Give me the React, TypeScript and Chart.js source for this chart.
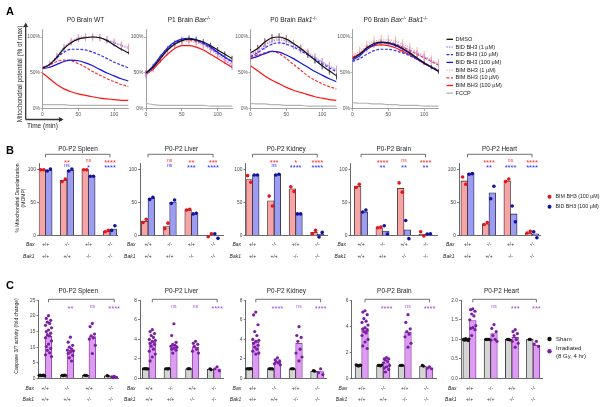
import React, { useEffect, useRef } from "react";
import { Chart, registerables } from "chart.js";

Chart.register(...registerables);

const FAMILY = "'Liberation Sans', Arial, Helvetica, sans-serif";
Chart.defaults.font.family = FAMILY;
const PAGE_W = 612;
const PAGE_H = 407;

/* ================= Panel A data ================= */
const TIME_MIN = [0, 10, 20, 30, 40, 50, 60, 70, 80, 90, 100, 110, 120];
const A_SERIES = ["DMSO", "BID BH3 (1 µM)", "BID BH3 (10 µM)", "BID BH3 (100 µM)", "BIM BH3 (1 µM)", "BIM BH3 (10 µM)", "BIM BH3 (100 µM)", "FCCP"];
const A_X_TICKS = [0, 50, 100];
const A_Y_TICKS = [0, 50, 100];

const WT_DMSO = [57, 62, 72, 84, 92, 97, 99, 100, 99, 95, 89, 83, 78];
const WT_BID1 = [57, 62, 73, 85, 93, 98, 100, 100, 99, 96, 92, 88, 84];
const WT_BID10 = [57, 62, 71, 79, 83, 83, 82, 79, 75, 70, 65, 61, 57];
const WT_BID100 = [56, 58, 62, 66, 68, 67, 64, 60, 55, 50, 46, 42, 39];
const WT_BIM1 = [57, 62, 73, 85, 94, 99, 100, 100, 99, 96, 93, 89, 86];
const WT_BIM10 = [57, 61, 66, 68, 67, 63, 58, 52, 47, 42, 38, 34, 31];
const WT_BIM100 = [50, 42, 34, 28, 24, 21, 19, 17, 15, 14, 13, 12, 12];
const WT_FCCP = [6, 6, 6, 6, 5, 5, 5, 5, 5, 5, 5, 5, 5];

const BAX_DMSO = [50, 58, 70, 82, 90, 95, 97, 96, 93, 88, 82, 76, 70];
const BAX_BID1 = [48, 57, 70, 82, 90, 95, 97, 95, 90, 84, 76, 68, 60];
const BAX_BID10 = [50, 59, 72, 84, 92, 96, 97, 95, 91, 85, 78, 72, 65];
const BAX_BID100 = [50, 60, 73, 85, 93, 97, 98, 96, 92, 86, 79, 72, 66];
const BAX_BIM1 = [49, 58, 70, 81, 89, 93, 94, 92, 88, 82, 75, 68, 62];
const BAX_BIM10 = [49, 58, 70, 82, 90, 95, 96, 94, 90, 84, 78, 72, 66];
const BAX_BIM100 = [48, 55, 66, 76, 84, 88, 88, 86, 82, 76, 70, 64, 58];
const BAX_FCCP = [8, 6, 5, 5, 5, 5, 5, 5, 5, 4, 4, 4, 4];

const BAK_DMSO = [78, 84, 93, 99, 100, 97, 91, 84, 76, 68, 60, 53, 46];
const BAK_BID1 = [75, 80, 88, 94, 96, 94, 89, 83, 77, 71, 65, 59, 54];
const BAK_BID10 = [73, 78, 85, 90, 92, 90, 86, 81, 75, 69, 63, 57, 52];
const BAK_BID100 = [70, 73, 77, 80, 79, 75, 70, 64, 58, 52, 47, 42, 38];
const BAK_BIM1 = [76, 82, 90, 96, 98, 96, 91, 85, 79, 72, 66, 60, 55];
const BAK_BIM10 = [72, 75, 78, 80, 77, 70, 62, 54, 46, 40, 35, 31, 28];
const BAK_BIM100 = [60, 53, 46, 40, 35, 30, 26, 23, 20, 17, 15, 13, 12];
const BAK_FCCP = [8, 7, 7, 6, 6, 5, 5, 5, 4, 4, 4, 4, 4];

const DKO_DMSO = [70, 76, 85, 91, 93, 92, 89, 84, 78, 71, 64, 58, 52];
const DKO_BID1 = [70, 75, 84, 90, 93, 93, 91, 87, 82, 77, 72, 67, 62];
const DKO_BID10 = [66, 70, 76, 81, 83, 83, 81, 78, 74, 69, 64, 59, 54];
const DKO_BID100 = [68, 74, 83, 89, 92, 91, 88, 83, 77, 70, 64, 58, 53];
const DKO_BIM1 = [75, 80, 88, 94, 96, 96, 94, 90, 85, 79, 74, 68, 63];
const DKO_BIM10 = [72, 77, 85, 90, 92, 92, 90, 86, 81, 76, 71, 66, 61];
const DKO_BIM100 = [72, 76, 83, 88, 89, 88, 85, 80, 75, 69, 63, 58, 53];
const DKO_FCCP = [9, 8, 8, 7, 7, 6, 6, 5, 5, 5, 4, 4, 4];

const A_CHART_DATA = [
  [WT_DMSO, WT_BID1, WT_BID10, WT_BID100, WT_BIM1, WT_BIM10, WT_BIM100, WT_FCCP],
  [BAX_DMSO, BAX_BID1, BAX_BID10, BAX_BID100, BAX_BIM1, BAX_BIM10, BAX_BIM100, BAX_FCCP],
  [BAK_DMSO, BAK_BID1, BAK_BID10, BAK_BID100, BAK_BIM1, BAK_BIM10, BAK_BIM100, BAK_FCCP],
  [DKO_DMSO, DKO_BID1, DKO_BID10, DKO_BID100, DKO_BIM1, DKO_BIM10, DKO_BIM100, DKO_FCCP],
];
// error (SEM) sizes for DMSO, BID 1 µM, BIM 1 µM
const A_ERR = [[2, 5, 5], [4, 6, 5], [5, 6, 5], [3, 5, 7]];

/* ================= Panel B / C shared ================= */
const GROUP_IDX = [0, 1, 2, 3];
const BAX_ROW = ["+/+", "-/-", "+/+", "-/-"];
const BAK1_ROW = ["+/+", "+/+", "-/-", "-/-"];
const TISSUES = ["P0-P2 Spleen", "P0-P2 Liver", "P0-P2 Kidney", "P0-P2 Brain", "P0-P2 Heart"];

/* ================= Panel B data ================= */
const B_Y_TICKS = [0, 50, 100];
const SPLEEN_BIM = [100, 84, 100, 7];
const SPLEEN_BID = [99, 99, 90, 10];
const SPLEEN_BIM_PTS = [[100, 100], [82, 86], [100, 100], [6, 8]];
const SPLEEN_BID_PTS = [[98, 101], [98, 101], [90, 90], [8, 15]];
const LIVER_BIM = [22, 14, 39, 0];
const LIVER_BID = [57, 51, 32, 0];
const LIVER_BIM_PTS = [[20, 25], [11, 19], [39, 40], [-1.5, 3]];
const LIVER_BID_PTS = [[55, 58], [49, 54], [33, 34], [3, -4]];
const KIDNEY_BIM = [85, 53, 71, 5];
const KIDNEY_BID = [92, 93, 33, 2];
const KIDNEY_BIM_PTS = [[91, 81], [60, 45], [74, 67], [3, 8]];
const KIDNEY_BID_PTS = [[92, 92], [92, 93], [33, 33], [-2, 5]];
const BRAIN_BIM = [75, 12, 72, 2];
const BRAIN_BID = [36, 7, 9, 2];
const BRAIN_BIM_PTS = [[73, 78], [12, 13], [80, 66], [6, -0.5]];
const BRAIN_BID_PTS = [[36, 39], [15, 2.5], [23, -4.5], [2.5, 3]];
const HEART_BIM = [83, 18, 83, 4];
const HEART_BID = [95, 65, 33, 3];
const HEART_BIM_PTS = [[89, 78], [17, 20], [82, 86], [4, 6.5]];
const HEART_BID_PTS = [[93, 94], [56, 75], [45, 21], [6, -3]];
const B_SIG_BIM = [["**", "ns", "****"], ["ns", "**", "***"], ["***", "*", "****"], ["****", "ns", "****"], ["****", "ns", "****"]];
const B_SIG_BID = [["ns", "*", "****"], ["ns", "***", "****"], ["ns", "****", "****"], ["**", "**", "**"], ["**", "****", "****"]];
const B_BIM_BARS = [SPLEEN_BIM, LIVER_BIM, KIDNEY_BIM, BRAIN_BIM, HEART_BIM];
const B_BID_BARS = [SPLEEN_BID, LIVER_BID, KIDNEY_BID, BRAIN_BID, HEART_BID];
const B_BIM_POINTS = [SPLEEN_BIM_PTS, LIVER_BIM_PTS, KIDNEY_BIM_PTS, BRAIN_BIM_PTS, HEART_BIM_PTS];
const B_BID_POINTS = [SPLEEN_BID_PTS, LIVER_BID_PTS, KIDNEY_BID_PTS, BRAIN_BID_PTS, HEART_BID_PTS];

/* ================= Panel C data ================= */
const C_Y_TICKS = [[0, 5, 10, 15, 20, 25], [0, 2, 4, 6, 8], [0, 2, 4, 6, 8], [0, 2, 4, 6], [0, 0.5, 1, 1.5, 2]];
const SPLEEN_SHAM = [1.0, 1.0, 1.0, 0.85];
const SPLEEN_IRR = [13.6, 9.0, 13.4, 0.5];
const SPLEEN_SHAM_PTS = [[1.0, 1.05, 0.95, 1.0, 1.1, 0.9], [1.0, 0.95, 1.05, 1.0], [1.0, 1.0, 0.95], [0.95, 0.8]];
const SPLEEN_IRR_PTS = [[20.1, 19.2, 18.6, 18.0, 17.6, 17.0, 16.2, 15.5, 15.0, 14.5, 14.0, 13.6, 13.0, 12.0, 11.0, 10.2, 9.6, 9.0, 8.2, 7.6, 7.0], [13.2, 11.6, 10.6, 10.0, 9.5, 9.1, 8.8, 8.5, 8.0, 7.4, 6.6, 5.6], [17.6, 16.6, 14.2, 13.6, 13.0, 12.6, 10.6, 8.0], [0.7, 0.5, 0.4, 0.3]];
const LIVER_SHAM = [1.0, 1.0, 1.0, 0.95];
const LIVER_IRR = [3.7, 3.4, 3.2, 1.0];
const LIVER_SHAM_PTS = [[1.0, 1.0, 1.02, 0.98, 1.0], [1.0, 1.0, 0.98, 1.02], [1.0, 1.0, 1.0], [1.0, 0.9]];
const LIVER_IRR_PTS = [[5.0, 4.8, 4.6, 4.4, 4.2, 4.0, 3.9, 3.8, 3.6, 3.5, 3.3, 3.0, 2.8, 2.5, 2.2, 1.8], [5.6, 4.4, 3.7, 3.5, 3.4, 3.3, 3.2, 3.1, 3.0, 2.9, 2.6], [3.8, 3.6, 3.5, 3.3, 3.0, 2.8, 2.6], [1.2, 1.0, 0.8]];
const KIDNEY_SHAM = [1.0, 1.0, 1.0, 0.75];
const KIDNEY_IRR = [3.7, 1.7, 3.6, 0.7];
const KIDNEY_SHAM_PTS = [[1.0, 1.0, 0.98, 1.02, 1.0], [1.0, 1.0, 1.0, 0.98], [1.0, 1.0, 1.0], [0.8, 0.75]];
const KIDNEY_IRR_PTS = [[6.8, 6.5, 5.5, 4.8, 4.4, 4.0, 3.9, 3.8, 3.6, 3.4, 3.2, 3.0, 2.8, 2.6, 2.5], [2.1, 1.9, 1.8, 1.7, 1.6, 1.5, 1.4], [5.3, 4.4, 4.2, 3.8, 3.0, 2.6, 2.2, 1.8], [1.0, 0.6, 0.4]];
const BRAIN_SHAM = [1.0, 1.0, 1.0, 0.95];
const BRAIN_IRR = [3.85, 1.2, 3.55, 0.8];
const BRAIN_SHAM_PTS = [[1.05, 1.0, 0.95, 1.0, 1.02], [1.0, 1.0, 0.97, 1.03], [1.0, 1.0, 1.0], [1.0, 0.95]];
const BRAIN_IRR_PTS = [[5.2, 5.1, 4.9, 4.6, 4.4, 4.3, 4.1, 3.9, 3.8, 3.7, 3.6, 3.5, 3.3, 3.0, 2.8, 2.5, 2.3], [1.6, 1.5, 1.5, 1.4, 1.3, 1.2, 1.0, 0.9, 0.8, 0.7, 0.5], [4.9, 4.3, 3.8, 3.6, 3.4, 3.2, 2.7, 2.4], [0.9, 0.8, 0.75]];
const HEART_SHAM = [1.0, 1.0, 1.0, 1.0];
const HEART_IRR = [1.48, 1.15, 1.05, 0.85];
const HEART_SHAM_PTS = [[1.0, 0.98, 1.02, 1.0, 0.97, 1.01], [1.0, 1.0, 1.0, 1.0], [1.0, 1.0, 0.99], [1.0, 1.0]];
const HEART_IRR_PTS = [[1.78, 1.76, 1.72, 1.65, 1.6, 1.5, 1.35, 1.3, 1.28, 1.25, 1.1], [1.38, 1.28, 1.2, 1.1, 1.0, 0.98, 0.95], [1.25, 1.2, 1.15, 1.1, 1.0, 0.95, 0.9, 0.8], [0.95, 0.88, 0.82]];
const C_SIG = [["**", "ns", "****"], ["ns", "ns", "****"], ["****", "ns", "****"], ["****", "ns", "****"], ["ns", "***", "***"]];
const C_SHAM_BARS = [SPLEEN_SHAM, LIVER_SHAM, KIDNEY_SHAM, BRAIN_SHAM, HEART_SHAM];
const C_IRR_BARS = [SPLEEN_IRR, LIVER_IRR, KIDNEY_IRR, BRAIN_IRR, HEART_IRR];
const C_SHAM_POINTS = [SPLEEN_SHAM_PTS, LIVER_SHAM_PTS, KIDNEY_SHAM_PTS, BRAIN_SHAM_PTS, HEART_SHAM_PTS];
const C_IRR_POINTS = [SPLEEN_IRR_PTS, LIVER_IRR_PTS, KIDNEY_IRR_PTS, BRAIN_IRR_PTS, HEART_IRR_PTS];

/* ================= layout & style ================= */
const A_BOXES = [[42.5, 128.5], [146, 232], [250.5, 336.5], [352.5, 438.5]];
const A_TOP = 29.8;
const A_BOTTOM = 109;
const A_COLORS = ["#111111", "#8a80ff", "#2a2aff", "#1414e8", "#ff9c9c", "#ff2e2e", "#ff1414", "#b4b4b4"];
const A_DASHES = [[], [1.2, 1.3], [2.8, 1.6], [], [1.2, 1.3], [2.8, 1.6], [], []];
const A_ERR_IDX = [0, 1, 4];
const A_TITLES: any[] = [
  [{ t: "P0 Brain WT" }],
  [{ t: "P1 Brain " }, { t: "Bax", it: true }, { t: "-/-", sup: true }],
  [{ t: "P0 Brain " }, { t: "Bak1", it: true }, { t: "-/-", sup: true }],
  [{ t: "P0 Brain " }, { t: "Bax", it: true }, { t: "-/-", sup: true }, { t: " " }, { t: "Bak1", it: true }, { t: "-/-", sup: true }],
];

const B_BOXES = [
  { l: 39, r: 117, c0: 45.5, s: 21.5 },
  { l: 140, r: 223, c0: 148, s: 21.7 },
  { l: 245.5, r: 327, c0: 252.5, s: 21.6 },
  { l: 350.5, r: 437, c0: 361, s: 21.5 },
  { l: 459, r: 540, c0: 467.5, s: 21.5 },
];
const B_TOP = 163.1;
const B_BOTTOM = 235.7;

const C_BOXES = [
  { l: 38.5, r: 118, c0: 45.2, s: 21.9 },
  { l: 140, r: 223, c0: 149, s: 21.6 },
  { l: 245.7, r: 327, c0: 252.5, s: 21.6 },
  { l: 351.7, r: 437, c0: 361.7, s: 21.5 },
  { l: 461, r: 542, c0: 469.5, s: 21.2 },
];
const C_TOP = 300.3;
const C_BOTTOM = 378.5;
const BAR_PX = 6.6;
const BEE = [0, -2.2, 2.2, -1.1, 1.1, -3, 3];
const Y_BOX_W = 20; // width given to the y-axis box (labels are clipped to it)

/* ================= drawing helpers ================= */
function txt(ctx: any, s: string, x: number, y: number, size: number, color: string, align: any = "center", style = "") {
  ctx.save();
  ctx.font = `${style ? style + " " : ""}${size}px ${FAMILY}`;
  ctx.fillStyle = color;
  ctx.textAlign = align;
  ctx.textBaseline = "middle";
  ctx.fillText(s, x, y);
  ctx.restore();
}

function rich(ctx: any, segs: any[], cx: number, cy: number, size: number, color: string) {
  ctx.save();
  ctx.fillStyle = color;
  ctx.textBaseline = "alphabetic";
  ctx.textAlign = "left";
  const f = (sg: any) => `${sg.it ? "italic " : ""}${sg.sup ? size * 0.68 : size}px ${FAMILY}`;
  let w = 0;
  segs.forEach((sg) => { ctx.font = f(sg); w += ctx.measureText(sg.t).width; });
  let x = cx - w / 2;
  const base = cy + size * 0.36;
  segs.forEach((sg) => {
    ctx.font = f(sg);
    ctx.fillText(sg.t, x, sg.sup ? base - size * 0.38 : base);
    x += ctx.measureText(sg.t).width;
  });
  ctx.restore();
}

function rotated(ctx: any, s: string, x: number, y: number, size: number, color: string) {
  ctx.save();
  ctx.translate(x, y);
  ctx.rotate(-Math.PI / 2);
  ctx.font = `${size}px ${FAMILY}`;
  ctx.fillStyle = color;
  ctx.textAlign = "center";
  ctx.textBaseline = "middle";
  ctx.fillText(s, 0, 0);
  ctx.restore();
}

function drawSig(ctx: any, s: string, x: number, y: number, color: string) {
  ctx.save();
  ctx.fillStyle = color;
  ctx.textAlign = "center";
  ctx.textBaseline = "alphabetic";
  if (s.indexOf("*") >= 0) {
    const sz = 7.5;
    ctx.font = `${sz}px ${FAMILY}`;
    ctx.fillText(s, x, y + sz * 0.58);
  } else {
    const sz = 5;
    ctx.font = `${sz}px ${FAMILY}`;
    ctx.fillText(s, x, y + sz * 0.27);
  }
  ctx.restore();
}

function arrow(ctx: any, x1: number, y1: number, x2: number, y2: number, color: string) {
  ctx.save();
  ctx.strokeStyle = color;
  ctx.fillStyle = color;
  ctx.lineWidth = 1.3;
  ctx.beginPath();
  ctx.moveTo(x1, y1);
  ctx.lineTo(x2, y2);
  ctx.stroke();
  const a = Math.atan2(y2 - y1, x2 - x1);
  const hl = 4.5, hw = 2.4;
  const ex = x2 + Math.cos(a) * 1.5, ey = y2 + Math.sin(a) * 1.5;
  ctx.beginPath();
  ctx.moveTo(ex, ey);
  ctx.lineTo(ex - hl * Math.cos(a) + hw * Math.sin(a), ey - hl * Math.sin(a) - hw * Math.cos(a));
  ctx.lineTo(ex - hl * Math.cos(a) - hw * Math.sin(a), ey - hl * Math.sin(a) + hw * Math.cos(a));
  ctx.closePath();
  ctx.fill();
  ctx.restore();
}

function dot(ctx: any, x: number, y: number, r: number, color: string) {
  ctx.save();
  ctx.fillStyle = color;
  ctx.beginPath();
  ctx.arc(x, y, r, 0, Math.PI * 2);
  ctx.fill();
  ctx.restore();
}

function common(l: number, r: number, top: number, bottom: number, xBoxH: number) {
  return {
    responsive: false,
    maintainAspectRatio: false,
    animation: false,
    devicePixelRatio: 1,
    events: [],
    layout: { padding: { left: l - Y_BOX_W, right: PAGE_W - r, top, bottom: PAGE_H - bottom - xBoxH } },
    plugins: { legend: { display: false }, tooltip: { enabled: false }, title: { display: false } },
  };
}

const errorBars = {
  id: "errorBars",
  beforeDatasetsDraw(chart: any) {
    const { ctx, scales } = chart;
    const xs = scales.x, ys = scales.y;
    chart.data.datasets.forEach((ds: any) => {
      if (!ds.errAmt) return;
      ctx.save();
      ctx.strokeStyle = ds.borderColor;
      ctx.lineWidth = 0.8;
      ds.data.forEach((p: any) => {
        const px = xs.getPixelForValue(p.x);
        ctx.beginPath();
        ctx.moveTo(px, ys.getPixelForValue(p.y - ds.errAmt));
        ctx.lineTo(px, ys.getPixelForValue(p.y + ds.errAmt));
        ctx.stroke();
      });
      ctx.restore();
    });
  },
};

/* ================= Panel A chart ================= */
const A_X_BOX_H = 12;
function lineConfig(i: number): any {
  const [l, r] = A_BOXES[i];
  const datasets = A_CHART_DATA[i].map((vals, k) => ({
    type: "line",
    label: A_SERIES[k],
    data: vals.map((v, j) => ({ x: TIME_MIN[j], y: v })),
    borderColor: A_COLORS[k],
    borderWidth: 1.2,
    borderDash: A_DASHES[k],
    pointRadius: 0,
    cubicInterpolationMode: "monotone",
    fill: false,
    errAmt: A_ERR_IDX.indexOf(k) >= 0 ? A_ERR[i][A_ERR_IDX.indexOf(k)] : 0,
  }));
  const axisColor = "#8a8a8a";
  const decor = {
    id: "aDecor",
    afterDraw(chart: any) {
      const { ctx, chartArea } = chart;
      rich(ctx, A_TITLES[i], (chartArea.left + chartArea.right) / 2, 20, 6.6, "#222");
      if (i === 0) {
        txt(ctx, "A", 6, 12, 11, "#000", "left", "bold");
        rotated(ctx, "Mitochondrial potential (% of max)", 20, 74, 6.4, "#222");
        arrow(ctx, 25.7, 119.5, 25.7, 24, "#333");
        arrow(ctx, 25.7, 119.5, 62, 119.5, "#333");
        txt(ctx, "Time (min)", 27, 126, 6.5, "#222", "left");
      }
      if (i === 3) {
        chart.data.datasets.forEach((ds: any, k: number) => {
          const y = 39.3 + k * 7.7;
          ctx.save();
          ctx.strokeStyle = ds.borderColor;
          ctx.lineWidth = 1.3;
          ctx.setLineDash(ds.borderDash || []);
          ctx.beginPath();
          ctx.moveTo(446.5, y);
          ctx.lineTo(453, y);
          ctx.stroke();
          ctx.restore();
          txt(ctx, ds.label, 455.5, y, 5.6, "#222", "left");
        });
      }
    },
  };
  return {
    type: "line",
    data: { datasets },
    options: {
      ...common(l, r, A_TOP, A_BOTTOM, A_X_BOX_H),
      scales: {
        x: {
          type: "linear", bounds: "data", min: 0, max: 120, offset: false,
          afterFit: (s: any) => { s.height = A_X_BOX_H; },
          afterBuildTicks: (s: any) => { s.ticks = A_X_TICKS.map((v) => ({ value: v })); },
          ticks: { font: { size: 5 }, color: "#555", padding: 0.5, maxRotation: 0, minRotation: 0, autoSkip: false },
          grid: { display: true, drawOnChartArea: false, drawTicks: true, tickLength: 2, color: axisColor, lineWidth: 0.7 },
          border: { display: true, color: axisColor, width: 0.8 },
        },
        y: {
          type: "linear", bounds: "data", min: 0, max: 110,
          afterFit: (s: any) => { s.width = Y_BOX_W; },
          afterBuildTicks: (s: any) => { s.ticks = A_Y_TICKS.map((v) => ({ value: v })); },
          ticks: { font: { size: 5 }, color: "#555", padding: 0.5, callback: (v: any) => v + "%" },
          grid: { display: true, drawOnChartArea: false, drawTicks: true, tickLength: 2, color: axisColor, lineWidth: 0.7 },
          border: { display: true, color: axisColor, width: 0.8 },
        },
      },
    },
    plugins: [errorBars, decor],
  };
}

/* ================= Panel B / C charts ================= */
function barConfig(p: any): any {
  const { box, top, bottom, xBoxH, ymax, yticks, yfmt, bars, pts, jitters, fills, borders, ptColors, ptRadius, rowLH, rowPad, decor } = p;
  const xmin = -(box.c0 - box.l) / box.s;
  const xmax = (box.r - box.c0) / box.s;
  const half = BAR_PX / 2 / box.s;
  const datasets: any[] = [];
  [0, 1].forEach((k) => {
    const side = k === 0 ? -half : half;
    const data: any[] = [];
    pts[k].forEach((grp: number[], gi: number) =>
      grp.forEach((v: number, j: number) => data.push({ x: GROUP_IDX[gi] + side + jitters[k](j, grp.length) / box.s, y: v }))
    );
    datasets.push({ type: "scatter", data, backgroundColor: ptColors[k], borderWidth: 0, pointRadius: ptRadius, order: 0, clip: false });
  });
  [0, 1].forEach((k) => {
    datasets.push({
      type: "bar",
      data: bars[k].map((v: number, i: number) => ({ x: GROUP_IDX[i], y: v })),
      backgroundColor: fills[k],
      borderColor: borders[k],
      borderWidth: 0.8,
      barThickness: BAR_PX,
      order: 1,
    });
  });
  return {
    type: "bar",
    data: { datasets },
    options: {
      ...common(box.l, box.r, top, bottom, xBoxH),
      scales: {
        x: {
          type: "linear", bounds: "data", min: xmin, max: xmax, offset: false,
          afterFit: (s: any) => { s.height = xBoxH; },
          afterBuildTicks: (s: any) => { s.ticks = GROUP_IDX.map((v) => ({ value: v })); },
          ticks: {
            callback: (v: any) => [BAX_ROW[v], BAK1_ROW[v]],
            font: { size: 5, lineHeight: rowLH / 5 }, color: "#333", padding: rowPad,
            maxRotation: 0, minRotation: 0, autoSkip: false,
          },
          grid: { display: false, drawTicks: false },
          border: { display: true, color: "#444", width: 0.8 },
        },
        y: {
          type: "linear", bounds: "data", min: 0, max: ymax,
          afterFit: (s: any) => { s.width = Y_BOX_W; },
          afterBuildTicks: (s: any) => { s.ticks = yticks.map((v: number) => ({ value: v })); },
          ticks: { callback: yfmt, font: { size: 4.8 }, color: "#444", padding: 1.2 },
          grid: { display: true, drawOnChartArea: false, drawTicks: true, tickLength: 2, color: "#444", lineWidth: 0.7 },
          border: { display: true, color: "#444", width: 0.8 },
        },
      },
    },
    plugins: [decor],
  };
}

function barDecor(d: any) {
  return {
    id: "bDecor",
    afterDraw(chart: any) {
      const { ctx, chartArea } = chart;
      const xs = chart.scales.x;
      rich(ctx, [{ t: d.title }], (chartArea.left + chartArea.right) / 2, d.titleY, 6.4, "#222");
      const x0 = xs.getPixelForValue(0 + d.shift), x3 = xs.getPixelForValue(3 + d.shift);
      ctx.save();
      ctx.strokeStyle = "#333";
      ctx.lineWidth = 0.7;
      ctx.beginPath();
      ctx.moveTo(x0, d.bracketY + 3);
      ctx.lineTo(x0, d.bracketY);
      ctx.lineTo(x3, d.bracketY);
      ctx.lineTo(x3, d.bracketY + 3);
      ctx.stroke();
      ctx.restore();
      d.sigs.forEach((row: any) => row.labels.forEach((s: string, k: number) => drawSig(ctx, s, xs.getPixelForValue(k + 1 + d.shift), row.y, row.color)));
      txt(ctx, "Bax", chartArea.left - 4.5, d.rowYs[0], 5, "#222", "right", "italic");
      txt(ctx, "Bak1", chartArea.left - 4.5, d.rowYs[1], 5, "#222", "right", "italic");
      if (d.extra) d.extra(ctx);
    },
  };
}

function bConfig(i: number) {
  const box = B_BOXES[i];
  return barConfig({
    box, top: B_TOP, bottom: B_BOTTOM, xBoxH: 30, ymax: 110, yticks: B_Y_TICKS, yfmt: (v: any) => String(v),
    bars: [B_BIM_BARS[i], B_BID_BARS[i]],
    pts: [B_BIM_POINTS[i], B_BID_POINTS[i]],
    jitters: [(j: number, n: number) => (j - (n - 1) / 2) * 3.2, (j: number, n: number) => (j - (n - 1) / 2) * 3.2],
    fills: ["#f5a5a5", "#9c9cf2"],
    borders: ["#3a2222", "#22223a"],
    ptColors: ["#e3141c", "#12129c"],
    ptRadius: 1.8,
    rowLH: 12.7,
    rowPad: 2.25,
    decor: barDecor({
      title: TISSUES[i], titleY: 149, bracketY: 154.3, shift: 0,
      sigs: [{ labels: B_SIG_BIM[i], y: 161, color: "#ff2c2c" }, { labels: B_SIG_BID[i], y: 166, color: "#2c2cff" }],
      rowYs: [244.3, 257],
      extra: (ctx: any) => {
        if (i === 0) {
          txt(ctx, "B", 6, 151.3, 11, "#000", "left", "bold");
          rotated(ctx, "% Mitochondrial Depolarization", 17.3, 198, 5, "#222");
          rotated(ctx, "(MOMP)", 23.3, 198, 5, "#222");
        }
        if (i === 4) {
          dot(ctx, 549.5, 196.7, 2, "#e3141c");
          txt(ctx, "BIM BH3 (100 µM)", 555.5, 196.7, 5.3, "#222", "left");
          dot(ctx, 549.5, 206.7, 2, "#12129c");
          txt(ctx, "BID BH3 (100 µM)", 555.5, 206.7, 5.3, "#222", "left");
        }
      },
    }),
  });
}

function cConfig(i: number) {
  const box = C_BOXES[i];
  return barConfig({
    box, top: C_TOP, bottom: C_BOTTOM, xBoxH: 28, ymax: C_Y_TICKS[i][C_Y_TICKS[i].length - 1], yticks: C_Y_TICKS[i],
    yfmt: i === 4 ? (v: any) => Number(v).toFixed(1) : (v: any) => String(v),
    bars: [C_SHAM_BARS[i], C_IRR_BARS[i]],
    pts: [C_SHAM_POINTS[i], C_IRR_POINTS[i]],
    jitters: [(j: number, n: number) => (j - (n - 1) / 2) * 1.1, (j: number, n: number) => (n <= 1 ? 0 : BEE[j % BEE.length])],
    fills: ["#d4d4d4", "#dc9cf0"],
    borders: ["#1a1a1a", "#7e2aa0"],
    ptColors: ["#111111", "#7a1fa3"],
    ptRadius: 1.6,
    rowLH: 11,
    rowPad: 4.3,
    decor: barDecor({
      title: TISSUES[i], titleY: 291, bracketY: 299.3, shift: BAR_PX / 2 / box.s,
      sigs: [{ labels: C_SIG[i], y: 307, color: "#a54fd6" }],
      rowYs: [388.3, 399.3],
      extra: (ctx: any) => {
        if (i === 0) {
          txt(ctx, "C", 6, 285.5, 11, "#000", "left", "bold");
          rotated(ctx, "Caspase 3/7 activity (fold change)", 16.7, 336, 5, "#222");
        }
        if (i === 4) {
          dot(ctx, 549.5, 339, 2.2, "#111111");
          txt(ctx, "Sham", 556, 339, 6, "#222", "left");
          dot(ctx, 549.5, 351.3, 2.2, "#7a1fa3");
          txt(ctx, "Irradiated", 556, 348.3, 6, "#222", "left");
          txt(ctx, "(8 Gy, 4 hr)", 556, 356, 6, "#222", "left");
        }
      },
    }),
  });
}

function allConfigs(): any[] {
  const list: any[] = [];
  for (let i = 0; i < 4; i++) list.push(lineConfig(i));
  for (let i = 0; i < 5; i++) list.push(bConfig(i));
  for (let i = 0; i < 5; i++) list.push(cConfig(i));
  return list;
}

const N_CHARTS = 14;

export default function App() {
  const refs = useRef<(HTMLCanvasElement | null)[]>([]);
  useEffect(() => {
    const cfgs = allConfigs();
    const charts = cfgs.map((cfg, i) => new Chart(refs.current[i] as HTMLCanvasElement, cfg));
    return () => charts.forEach((c) => c.destroy());
  }, []);
  return (
    <div style={{ position: "absolute", left: 0, top: 0, width: PAGE_W, height: PAGE_H, background: "#ffffff", overflow: "hidden" }}>
      {Array.from({ length: N_CHARTS }).map((_, i) => (
        <canvas
          key={i}
          ref={(el) => { refs.current[i] = el; }}
          width={PAGE_W}
          height={PAGE_H}
          style={{ position: "absolute", left: 0, top: 0, width: PAGE_W, height: PAGE_H }}
        />
      ))}
    </div>
  );
}
